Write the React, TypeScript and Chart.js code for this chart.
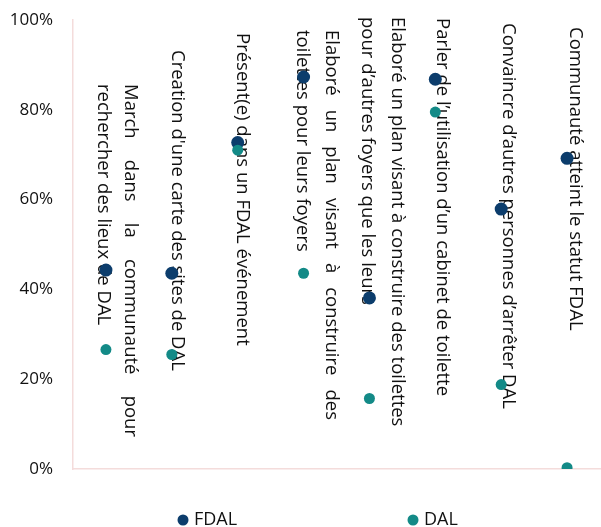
import React, { useEffect, useRef } from "react";
import { Chart, registerables } from "chart.js";

Chart.register(...registerables);

// ---- data ----
const categories = [
  "March dans la communauté pour rechercher des lieux de DAL",
  "Creation d'une carte des sites de DAL",
  "Présent(e) dans un FDAL événement",
  "Elaboré un plan visant à construire des toilettes pour leurs foyers",
  "Elaboré un plan visant à construire des toilettes pour d’autres foyers que les leurs",
  "Parler de l’utilisation d’un cabinet de toilette",
  "Convaincre d’autres personnes d’arrêter DAL",
  "Communauté atteint le statut FDAL",
];
const categoryLines = [
  ["March dans la communauté pour", "rechercher des lieux de DAL"],
  ["Creation d'une carte des sites de DAL"],
  ["Présent(e) dans un FDAL événement"],
  ["Elaboré un plan visant à construire des", "toilettes pour leurs foyers"],
  ["Elaboré un plan visant à construire des toilettes", "pour d’autres foyers que les leurs"],
  ["Parler de l’utilisation d’un cabinet de toilette"],
  ["Convaincre d’autres personnes d’arrêter DAL"],
  ["Communauté atteint le statut FDAL"],
];
const seriesNames = ["FDAL", "DAL"];
const fdalValues = [44.3, 43.6, 72.7, 87.3, 38.1, 86.8, 57.9, 69.2];
const dalValues = [26.6, 25.5, 71.0, 43.6, 15.7, 79.5, 18.8, 0.3];
const yTickValues = [0, 20, 40, 60, 80, 100];

// ---- styling / layout (not data) ----
const FDAL_COLOR = "#0c3d6c";
const DAL_COLOR = "#138a87";
const AXIS_COLOR = "#f4dcdb";
const TEXT_COLOR = "#111111";
const FONT = "'Open Sans', 'DejaVu Sans', sans-serif";

// per-label text box placement: dx = first column offset from category centre,
// top = start y, gap = spacing between columns, justify = width for justified lines
const labelLayout = [
  { dx: 24, top: 84, gap: 27, justify: 353 },
  { dx: 5, top: 50, gap: 0, justify: 0 },
  { dx: 5, top: 33, gap: 0, justify: 0 },
  { dx: 28, top: 30, gap: 29, justify: 390 },
  { dx: 28, top: 17, gap: 30, justify: 0 },
  { dx: 7, top: 18, gap: 0, justify: 0 },
  { dx: 7, top: 23, gap: 0, justify: 0 },
  { dx: 8, top: 27, gap: 0, justify: 0 },
];

const labelPlugin = {
  id: "rotatedLabels",
  beforeDatasetsDraw(chart: any) {
    const { ctx, scales } = chart;
    const xs = scales.x;
    ctx.save();
    ctx.font = `18.5px ${FONT}`;
    ctx.fillStyle = TEXT_COLOR;
    ctx.textBaseline = "middle";
    ctx.textAlign = "left";
    categoryLines.forEach((lines, i) => {
      const lay = labelLayout[i];
      const cx = xs.getPixelForValue(i);
      lines.forEach((line, li) => {
        const colX = cx + lay.dx - li * lay.gap;
        ctx.save();
        ctx.translate(colX, lay.top);
        ctx.rotate(Math.PI / 2);
        const isLast = li === lines.length - 1;
        if (!isLast && lay.justify > 0) {
          const words = line.split(" ");
          const widths = words.map((w) => ctx.measureText(w).width);
          const total = widths.reduce((a, b) => a + b, 0);
          const space = (lay.justify - total) / (words.length - 1);
          let pos = 0;
          words.forEach((w, wi) => {
            ctx.fillText(w, pos, 0);
            pos += widths[wi] + space;
          });
        } else {
          ctx.fillText(line, 0, 0);
        }
        ctx.restore();
      });
    });
    ctx.restore();
  },
  afterDraw(chart: any) {
    const { ctx } = chart;
    ctx.save();
    ctx.font = `18px ${FONT}`;
    ctx.textBaseline = "middle";
    ctx.textAlign = "left";
    const items = [
      { name: seriesNames[0], color: FDAL_COLOR, x: 183 },
      { name: seriesNames[1], color: DAL_COLOR, x: 413 },
    ];
    const y = 520;
    items.forEach((it) => {
      ctx.fillStyle = it.color;
      ctx.beginPath();
      ctx.arc(it.x, y, 5.5, 0, Math.PI * 2);
      ctx.fill();
      ctx.fillStyle = TEXT_COLOR;
      ctx.fillText(it.name, it.x + 11, y);
    });
    ctx.restore();
  },
};

export default function App() {
  const canvasRef = useRef<HTMLCanvasElement | null>(null);

  useEffect(() => {
    if (!canvasRef.current) return;
    const chart = new Chart(canvasRef.current, {
      type: "line",
      data: {
        labels: categories,
        datasets: [
          {
            label: seriesNames[0],
            data: fdalValues,
            showLine: false,
            pointRadius: 6.5,
            pointHoverRadius: 6.5,
            pointBorderWidth: 0,
            backgroundColor: FDAL_COLOR,
            borderColor: FDAL_COLOR,
            order: 1,
          },
          {
            label: seriesNames[1],
            data: dalValues,
            showLine: false,
            pointRadius: 5.5,
            pointHoverRadius: 5.5,
            pointBorderWidth: 0,
            backgroundColor: DAL_COLOR,
            borderColor: DAL_COLOR,
            order: 0,
          },
        ],
      },
      options: {
        animation: false,
        responsive: false,
        layout: { autoPadding: false, padding: { left: 0, top: 20, right: 1, bottom: 58 } },
        plugins: {
          legend: { display: false },
          tooltip: { enabled: false },
        },
        scales: {
          x: {
            type: "category",
            offset: true,
            grid: { display: false, drawTicks: false },
            border: { display: true, color: AXIS_COLOR, width: 1.5 },
            ticks: { display: false },
            afterFit(scale: any) {
              scale.height = 0;
            },
          },
          y: {
            min: 0,
            max: 100,
            grid: { display: false, drawTicks: true, tickLength: 20, tickColor: "rgba(0,0,0,0)" },
            border: { display: true, color: AXIS_COLOR, width: 1.5 },
            afterBuildTicks(scale: any) {
              scale.ticks = yTickValues.map((v) => ({ value: v }));
            },
            ticks: {
              padding: 0,
              color: TEXT_COLOR,
              font: { family: FONT, size: 17 },
              callback: (v: any) => `${v}%`,
            },
            afterFit(scale: any) {
              scale.width = 73;
            },
          },
        },
      },
      plugins: [labelPlugin],
    });
    return () => chart.destroy();
  }, []);

  return (
    <div style={{ position: "absolute", left: 0, top: 0, width: 601, height: 527, overflow: "hidden", background: "#fff" }}>
      <canvas ref={canvasRef} width={601} height={527} style={{ display: "block" }} />
    </div>
  );
}
